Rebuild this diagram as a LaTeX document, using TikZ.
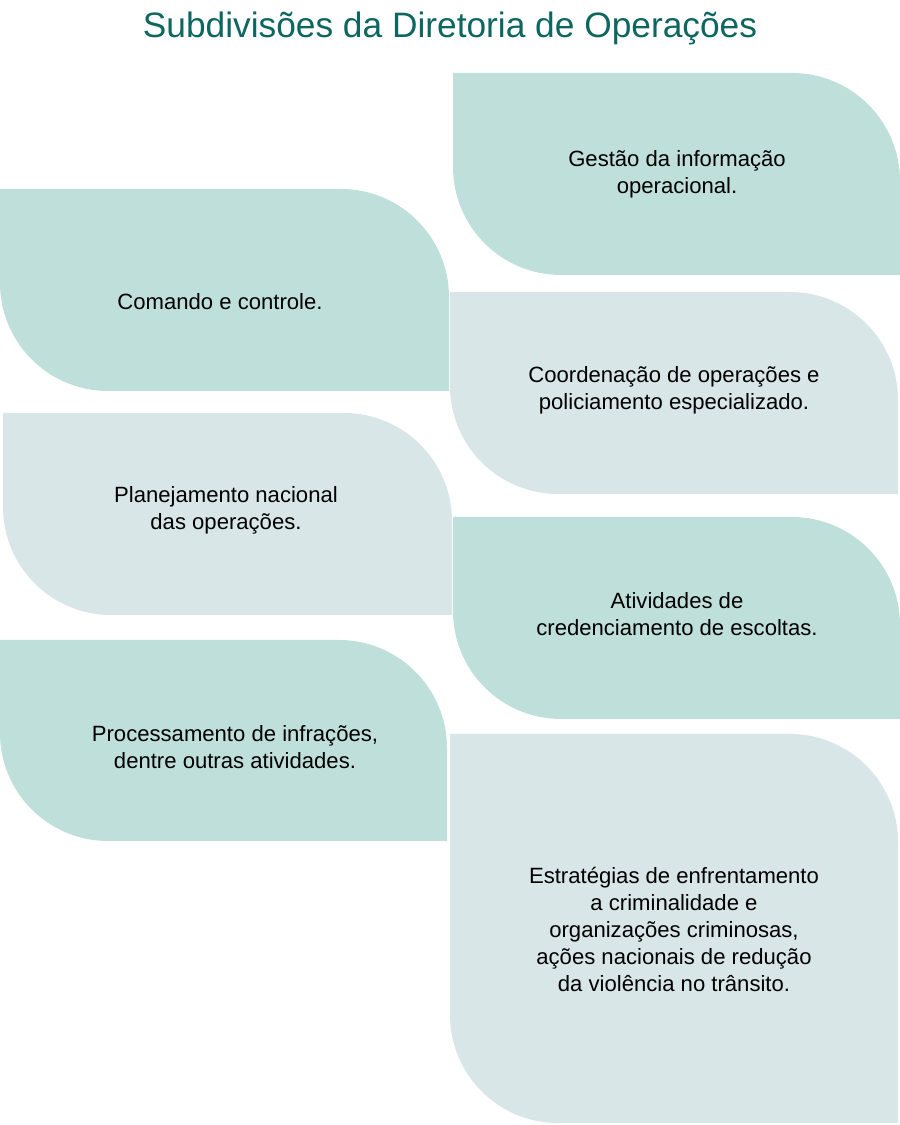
\documentclass[tikz,border=0pt]{standalone}
\usepackage{fontspec}
\setmainfont{Liberation Sans}
\definecolor{leafgreen}{RGB}{191,224,218}
\definecolor{leaflight}{RGB}{216,230,231}
\definecolor{titleteal}{RGB}{14,102,96}
\newcommand\leafbox[5]{%
  \fill[#5] (#1,#2) -- ({#3-108},#2) arc[start angle=90,end angle=0,radius=108]
    -- (#3,#4) -- ({#1+108},#4) arc[start angle=270,end angle=180,radius=108] -- cycle;}
\begin{document}
\begin{tikzpicture}[x=1pt,y=1pt,
  boxtext/.style={align=center,text=black,font=\fontsize{22.1}{27}\selectfont,inner sep=0pt},
  titletext/.style={text=titleteal,font=\fontsize{35.3}{40}\selectfont,inner sep=0pt}]
\useasboundingbox (0,0) rectangle (900,1125);
\leafbox{453}{1052}{900}{850}{leafgreen}
\leafbox{0}{936}{449}{734}{leafgreen}
\leafbox{450}{833}{898}{631}{leaflight}
\leafbox{3}{712}{452}{510}{leaflight}
\leafbox{453}{608}{900}{406}{leafgreen}
\leafbox{0}{485}{447}{284}{leafgreen}
\leafbox{450}{391}{898}{2}{leaflight}
\node[titletext] (title) at (450,1097) {Subdivisões da Diretoria de Operações};
\node[boxtext] (gestao) at (677,951) {Gestão da informação\\operacional.};
\node[boxtext] (comando) at (220,823) {Comando e controle.};
\node[boxtext] (coord) at (674,735) {Coordenação de operações e\\policiamento especializado.};
\node[boxtext] (planej) at (226,615) {Planejamento nacional\\das operações.};
\node[boxtext] (ativ) at (677,511) {Atividades de\\credenciamento de escoltas.};
\node[boxtext] (proc) at (235,378) {Processamento de infrações,\\dentre outras atividades.};
\node[boxtext] (estrat) at (674,196) {Estratégias de enfrentamento\\a criminalidade e\\organizações criminosas,\\ações nacionais de redução\\da violência no trânsito.};
\end{tikzpicture}
\end{document}
